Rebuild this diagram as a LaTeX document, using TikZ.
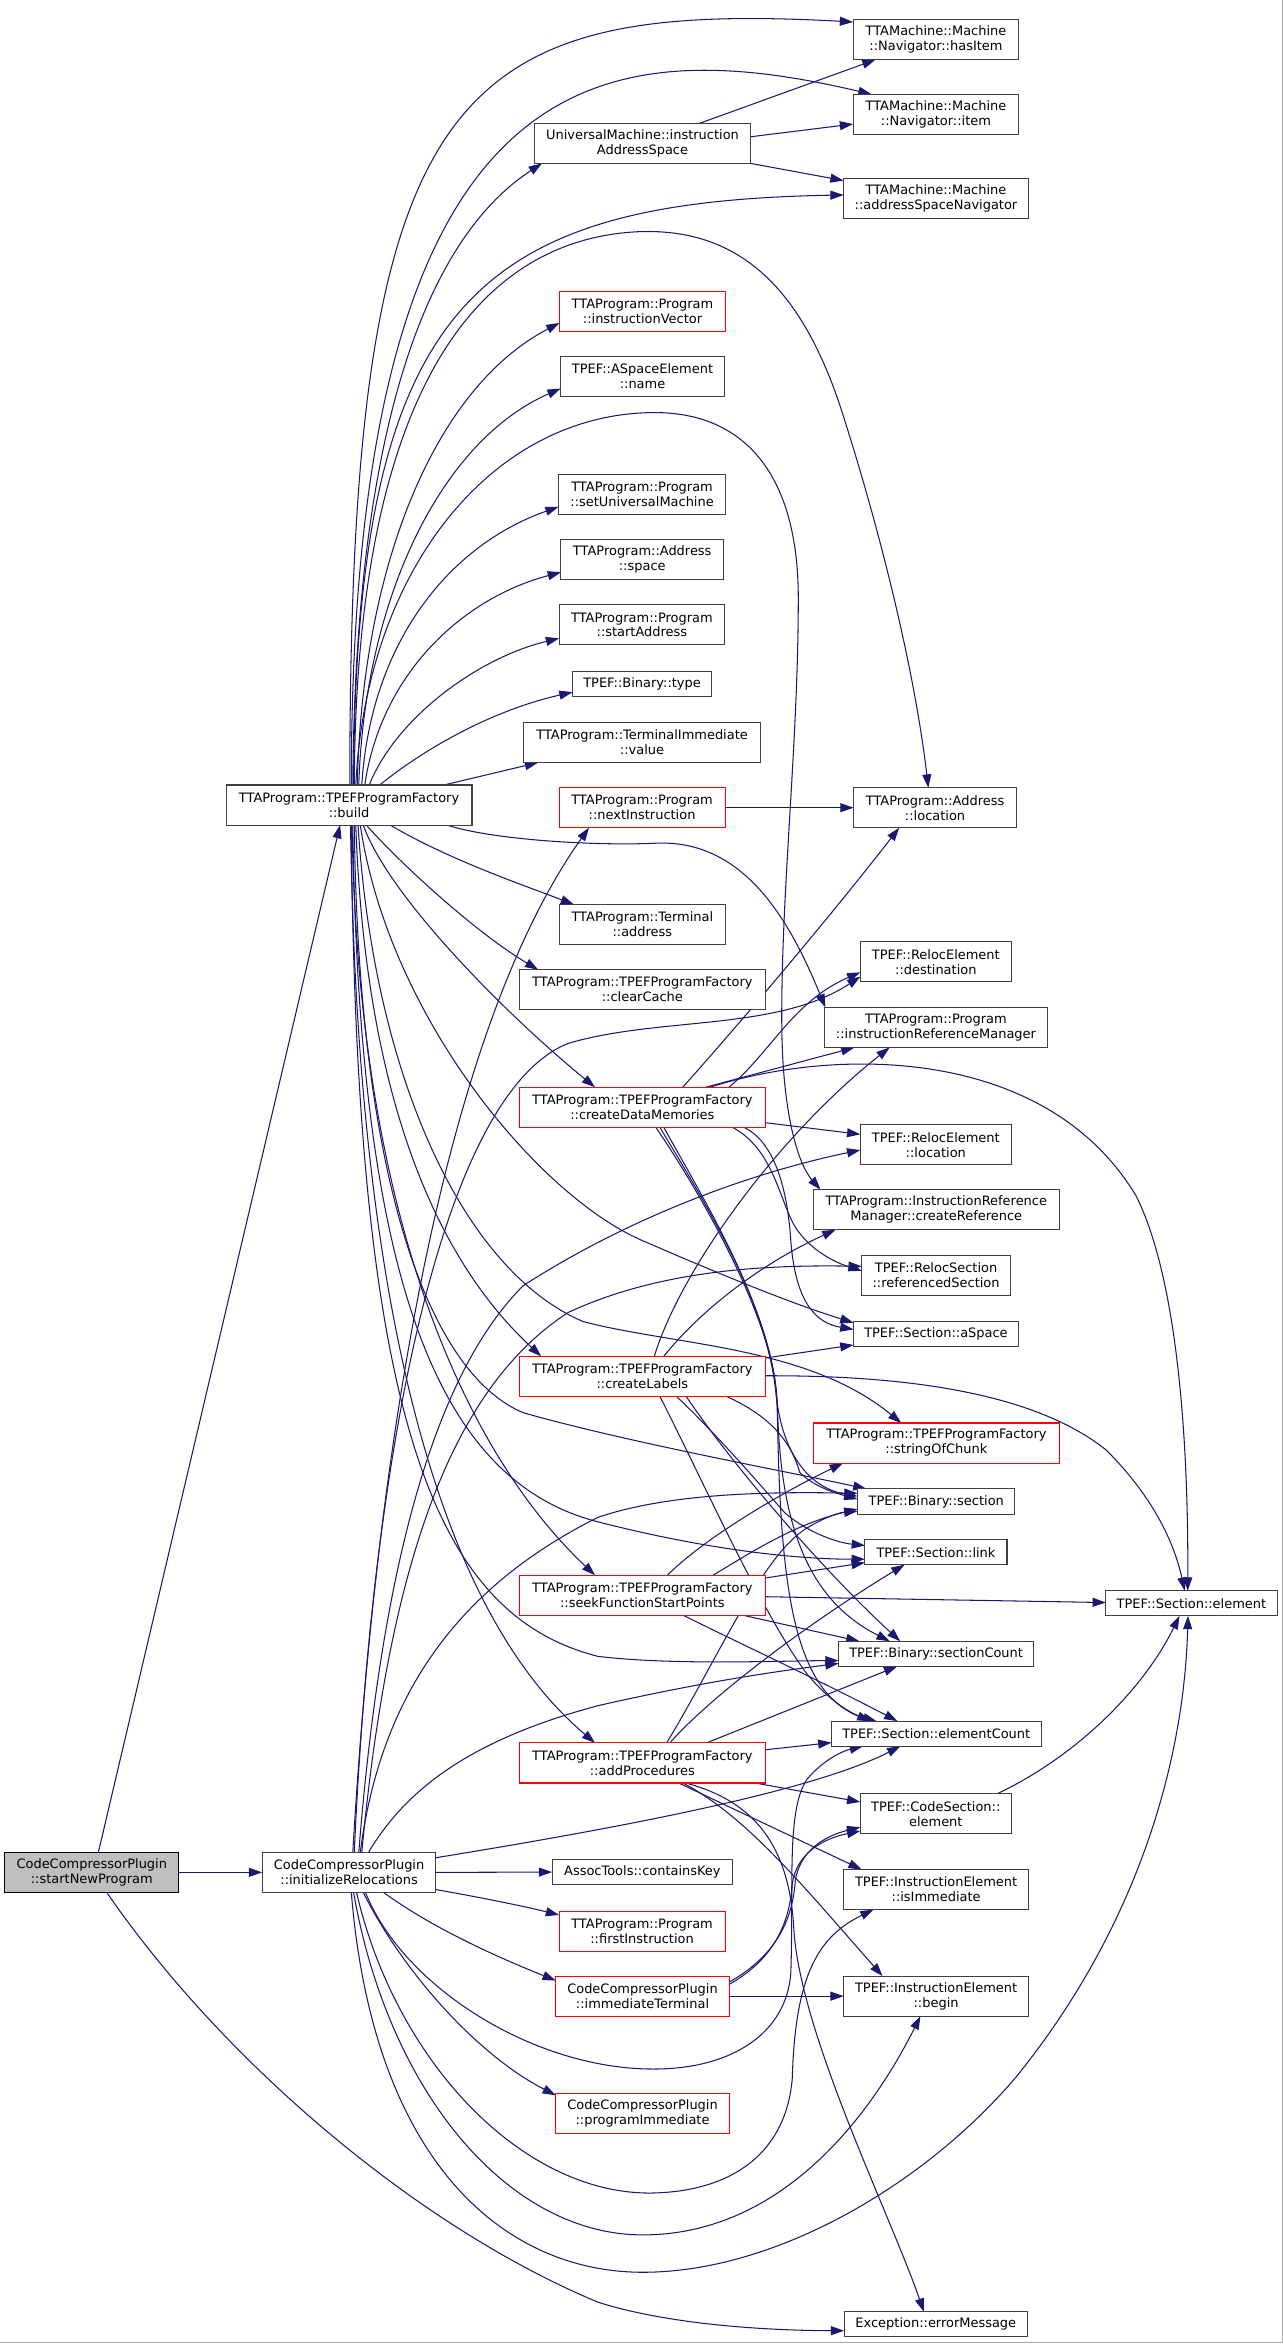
\documentclass[tikz,border=0pt]{standalone}
\usepackage{fontspec}
\newfontfamily\dvs{DejaVu Sans}
\usetikzlibrary{arrows.meta,calc}
\definecolor{edgec}{HTML}{191970}
\definecolor{boxc}{HTML}{404040}
\definecolor{redc}{HTML}{FF0000}
\definecolor{rootfill}{HTML}{BFBFBF}
\definecolor{framec}{HTML}{A8A8A8}
\pgfdeclarelayer{bg}
\pgfsetlayers{bg,main}
\begin{document}
\begin{tikzpicture}[x=1pt,y=-1pt,
  box/.style={draw=boxc, line width=0.7pt, fill=white, inner sep=0pt, outer sep=0pt, align=center, minimum height=26.8pt, font=\dvs\fontsize{8.67}{10}\selectfont},
  one/.style={minimum height=16.8pt},
  redbox/.style={box, draw=redc},
  root/.style={box, draw=black, fill=rootfill},
  edg/.style={draw=edgec, line width=0.7pt, -{Triangle[length=8.9pt,width=6pt]}}]
\useasboundingbox (0,0) rectangle (858.2,1568);
% ---- nodes ----
\node[root, minimum width=116.6pt] (nsnp) at (61.4,1252.5) {CodeCompressorPlugin\\::startNewProgram};
\node[box, minimum width=116.2pt] (nir) at (233.5,1252.5) {CodeCompressorPlugin\\::initializeRelocations};
\node[box, minimum width=164.5pt] (nbuild) at (233.5,538.5) {TTAProgram::TPEFProgramFactory\\::build};
\node[box, minimum width=144.5pt] (num) at (429.8,95.9) {UniversalMachine::instruction\\AddressSpace};
\node[redbox, minimum width=111pt] (nivec) at (429.8,208.4) {TTAProgram::Program\\::instructionVector};
\node[box, minimum width=109.5pt] (nname) at (429.8,251.9) {TPEF::ASpaceElement\\::name};
\node[box, minimum width=111.6pt] (nsetum) at (429.5,330.5) {TTAProgram::Program\\::setUniversalMachine};
\node[box, minimum width=108.7pt] (nspace) at (429.6,374.3) {TTAProgram::Address\\::space};
\node[box, minimum width=110.7pt] (nstart) at (429.4,418) {TTAProgram::Program\\::startAddress};
\node[box, one, minimum width=93pt] (ntype) at (429.5,457.5) {TPEF::Binary::type};
\node[box, minimum width=159pt] (nvalue) at (429.5,496.7) {TTAProgram::TerminalImmediate\\::value};
\node[redbox, minimum width=111pt] (nnexti) at (429.5,540.3) {TTAProgram::Program\\::nextInstruction};
\node[box, minimum width=111.5pt] (ntaddr) at (429.7,618.5) {TTAProgram::Terminal\\::address};
\node[box, minimum width=164.3pt] (nclear) at (429.7,662.1) {TTAProgram::TPEFProgramFactory\\::clearCache};
\node[redbox, minimum width=164.3pt] (ncdm) at (429.7,740.7) {TTAProgram::TPEFProgramFactory\\::createDataMemories};
\node[redbox, minimum width=164.3pt] (ncl) at (429.7,920.7) {TTAProgram::TPEFProgramFactory\\::createLabels};
\node[redbox, minimum width=164.3pt] (nsfsp) at (429.7,1067.1) {TTAProgram::TPEFProgramFactory\\::seekFunctionStartPoints};
\node[redbox, minimum width=164.3pt] (nap) at (429.7,1179.3) {TTAProgram::TPEFProgramFactory\\::addProcedures};
\node[box, one, minimum width=120.7pt] (nck) at (429.7,1252.3) {AssocTools::containsKey};
\node[redbox, minimum width=111pt] (nfi) at (429.5,1291.9) {TTAProgram::Program\\::firstInstruction};
\node[redbox, minimum width=116pt] (nit) at (429.8,1335.3) {CodeCompressorPlugin\\::immediateTerminal};
\node[redbox, minimum width=116pt] (npi) at (429.8,1414) {CodeCompressorPlugin\\::programImmediate};
\node[box, minimum width=110.8pt] (nhasitem) at (626.1,26.5) {TTAMachine::Machine\\::Navigator::hasItem};
\node[box, minimum width=110.8pt] (nitem) at (626.1,76.5) {TTAMachine::Machine\\::Navigator::item};
\node[box, minimum width=123.5pt] (nasn) at (626.1,132.7) {TTAMachine::Machine\\::addressSpaceNavigator};
\node[box, minimum width=109pt] (naloc) at (625.5,540.3) {TTAProgram::Address\\::location};
\node[box, minimum width=101pt] (ndest) at (626,643.4) {TPEF::RelocElement\\::destination};
\node[box, minimum width=149pt] (nirm) at (626.1,687.3) {TTAProgram::Program\\::instructionReferenceManager};
\node[box, minimum width=101pt] (nrloc) at (626,765.8) {TPEF::RelocElement\\::location};
\node[box, minimum width=164.8pt] (ncref) at (626.3,809.2) {TTAProgram::InstructionReference\\Manager::createReference};
\node[box, minimum width=99.4pt] (nrsec) at (626.2,853.1) {TPEF::RelocSection\\::referencedSection};
\node[box, one, minimum width=110.3pt] (naspace) at (626.1,892.3) {TPEF::Section::aSpace};
\node[redbox, minimum width=165pt] (nsoc) at (626.4,965.3) {TTAProgram::TPEFProgramFactory\\::stringOfChunk};
\node[box, one, minimum width=105.3pt] (nbsec) at (626.3,1004.4) {TPEF::Binary::section};
\node[box, one, minimum width=95pt] (nlink) at (626.1,1038.3) {TPEF::Section::link};
\node[box, one, minimum width=130.5pt] (nbsc) at (626.2,1106.3) {TPEF::Binary::sectionCount};
\node[box, one, minimum width=140.2pt] (nsec) at (626.3,1159.7) {TPEF::Section::elementCount};
\node[box, minimum width=101pt] (ncse) at (626,1213.4) {TPEF::CodeSection::\\element};
\node[box, minimum width=123.6pt] (nisimm) at (626.2,1264) {TPEF::InstructionElement\\::isImmediate};
\node[box, minimum width=123.6pt] (nbegin) at (626.2,1335.3) {TPEF::InstructionElement\\::begin};
\node[box, one, minimum width=122.7pt] (nerr) at (626,1554.8) {Exception::errorMessage};
\node[box, one, minimum width=114.5pt] (nselem) at (797,1072.5) {TPEF::Section::element};
\begin{pgfonlayer}{bg}
\fill[white] (0,0) rectangle (858.2,1568);
\draw[framec, line width=0.67pt] (857.7,0) -- (857.7,1567.3) -- (0,1567.3);
% ---- build, upward ----
\draw[edg] ($(nbuild.north)+(0.5,0)$) .. controls (234,60) and (300,0) .. ($(nhasitem.west)+(0,-11.8)$);
\draw[edg] ($(nbuild.north)+(1.5,0)$) .. controls (235,40) and (400,20) .. ($(nitem.north)+(-43,0)$);
\draw[edg] ($(nbuild.north)+(2.5,0)$) .. controls (238,250) and (300,150) .. ($(num.south west)+(5,0)$);
\draw[edg] ($(nbuild.north)+(3,0)$) .. controls (238,200) and (320,135) .. ($(nasn.west)+(0,-2.3)$);
\draw[edg] ($(nbuild.north)+(3.5,0)$) .. controls (238,260) and (320,160) .. (427,155) .. controls (500,152) and (540,200) .. (565,281) .. controls (590,360) and (612,450) .. ($(naloc.north)+(-4.5,0)$);
\draw[edg] ($(nbuild.north)+(4.5,0)$) .. controls (245,380) and (330,276) .. (438,276) .. controls (500,276) and (534,320) .. (534,400) .. controls (534,500) and (522,600) .. (523,690) .. controls (524,750) and (535,780) .. ($(ncref.north west)+(5,0)$);
\draw[edg] ($(nbuild.north)+(5.5,0)$) .. controls (242,380) and (290,260) .. ($(nivec.west)+(0,7.6)$);
\draw[edg] ($(nbuild.north)+(6.5,0)$) .. controls (244,400) and (295,295) .. ($(nname.west)+(0,8)$);
\draw[edg] ($(nbuild.north)+(8.5,0)$) .. controls (248,430) and (300,365) .. ($(nsetum.west)+(0,8.5)$);
\draw[edg] ($(nbuild.north)+(10.5,0)$) .. controls (255,450) and (310,400) .. ($(nspace.west)+(0,8.5)$);
\draw[edg] ($(nbuild.north)+(13.5,0)$) .. controls (265,480) and (320,440) .. ($(nstart.west)+(0,9)$);
\draw[edg] ($(nbuild.north)+(20.5,0)$) .. controls (285,500) and (330,475) .. ($(ntype.west)+(0,5.5)$);
\draw[edg] ($(nbuild.north)+(63.5,0)$) -- ($(nvalue.south west)+(10,0)$);
% ---- build, downward ----
\draw[edg] ($(nbuild.south)+(65.5,0)$) .. controls (330,562) and (400,566) .. (440,564) .. controls (500,562) and (530,620) .. ($(nirm.north west)+(0.5,0)$);
\draw[edg] ($(nbuild.south)+(27.5,0)$) .. controls (300,575) and (350,592) .. ($(ntaddr.north west)+(10,0)$);
\draw[edg] ($(nbuild.south)+(11.5,0)$) .. controls (270,580) and (320,625) .. ($(nclear.north west)+(12.5,0)$);
\draw[edg] ($(nbuild.south)+(9.5,0)$) .. controls (260,600) and (340,680) .. ($(ncdm.north west)+(50.5,0)$);
\draw[edg] ($(nbuild.south)+(7.5,0)$) .. controls (260,680) and (360,800) .. (430,830) .. controls (490,856) and (530,872) .. ($(naspace.north west)+(0,1)$);
\draw[edg] ($(nbuild.south)+(6,0)$) .. controls (250,720) and (310,850) .. (390,884) .. controls (450,900) and (540,900) .. ($(nsoc.north west)+(59,0)$);
\draw[edg] ($(nbuild.south)+(4.5,0)$) .. controls (245,750) and (300,850) .. ($(ncl.north west)+(14.5,0)$);
\draw[edg] ($(nbuild.south)+(3.5,0)$) .. controls (240,800) and (290,920) .. (350,945) .. controls (420,965) and (530,985) .. ($(nbsec.north west)+(6,0)$);
\draw[edg] ($(nbuild.south)+(2.5,0)$) .. controls (240,850) and (290,990) .. (400,1018) .. controls (470,1036) and (530,1043) .. ($(nlink.west)+(0,4.7)$);
\draw[edg] ($(nbuild.south)+(2,0)$) .. controls (240,850) and (330,990) .. ($(nsfsp.north west)+(50.5,0)$);
\draw[edg] ($(nbuild.south)+(1.5,0)$) .. controls (238,950) and (290,1080) .. (400,1108) .. controls (450,1114) and (520,1111) .. ($(nbsc.west)+(0,4.5)$);
\draw[edg] ($(nbuild.south)+(1,0)$) .. controls (240,950) and (320,1100) .. ($(nap.north west)+(50.5,0)$);
% ---- startNewProgram ----
\draw[edg] ($(nsnp.north)+(4.4,0)$) -- ($(nbuild.south)+(-6,0)$);
\draw[edg] (nsnp.east) -- (nir.west);
\draw[edg] ($(nsnp.south)+(10,0)$) .. controls (150,1380) and (280,1490) .. (400,1540) .. controls (450,1556) and (520,1559) .. ($(nerr.west)+(0,4.3)$);
% ---- misc ----
\draw[edg] ($(num.north)+(38.2,0)$) -- ($(nhasitem.south west)+(15,0)$);
\draw[edg] ($(num.east)+(0,-4.4)$) -- ($(nitem.west)+(0,6.5)$);
\draw[edg] (num.south east) -- ($(nasn.north west)+(0,1.5)$);
\draw[edg] (nnexti.east) -- (naloc.west);
\draw[edg] ($(ncse.north east)+(-9.7,0)$) .. controls (720,1175) and (765,1130) .. ($(nselem.south)+(-8,0)$);
% ---- initializeRelocations ----
\draw[edg] ($(nir.north)+(2.5,0)$) .. controls (250,1000) and (290,700) .. ($(nnexti.south west)+(20,0)$);
\draw[edg] ($(nir.north)+(3.5,0)$) .. controls (250,950) and (300,730) .. (380,698) .. controls (440,680) and (520,690) .. ($(ndest.south west)+(0,-3.5)$);
\draw[edg] ($(nir.north)+(6.5,0)$) .. controls (255,1050) and (290,920) .. (350,860) .. controls (420,815) and (500,785) .. ($(nrloc.west)+(0,3.5)$);
\draw[edg] ($(nir.north)+(8.5,0)$) .. controls (260,1050) and (300,930) .. (380,878) .. controls (440,850) and (510,846) .. ($(nrsec.west)+(0,-6)$);
\draw[edg] ($(nir.north)+(7.5,0)$) .. controls (255,1130) and (310,1060) .. (400,1015) .. controls (450,998) and (520,998) .. ($(nbsec.west)+(0,-5.5)$);
\draw[edg] ($(nir.north)+(13,0)$) .. controls (270,1200) and (310,1165) .. (400,1141) .. controls (470,1125) and (520,1118) .. ($(nbsc.south west)+(0,-2)$);
\draw[edg] ($(nir.north east)+(0,3.6)$) .. controls (400,1225) and (540,1200) .. ($(nsec.south)+(-24,0)$);
\draw[edg] (nir.east) -- (nck.west);
\draw[edg] ($(nir.east)+(0,11.5)$) .. controls (320,1269) and (350,1275) .. ($(nfi.north west)+(0,2.5)$);
\draw[edg] ($(nir.south)+(23,0)$) .. controls (290,1290) and (330,1308) .. ($(nit.north west)+(0,3)$);
\draw[edg] ($(nir.south)+(9.5,0)$) .. controls (270,1320) and (320,1375) .. ($(npi.north west)+(0,1)$);
\draw[edg] ($(nir.south)+(11,0)$) .. controls (270,1330) and (360,1386) .. (441,1384) .. controls (490,1383) and (526,1360) .. (529,1320) .. controls (531,1260) and (526,1210) .. (540,1190) .. controls (552,1176) and (565,1171) .. ($(nsec.south)+(-49,0)$);
\draw[edg] ($(nir.south)+(5,0)$) .. controls (265,1380) and (350,1468) .. (436,1467) .. controls (490,1466) and (526,1440) .. (530,1390) .. controls (532,1320) and (548,1295) .. ($(nisimm.south west)+(20,0)$);
\draw[edg] ($(nir.south)+(3,0)$) .. controls (260,1400) and (340,1495) .. (430,1495) .. controls (520,1495) and (580,1420) .. ($(nbegin.south)+(-10.5,0)$);
\draw[edg] ($(nir.south)+(1.5,0)$) .. controls (250,1450) and (340,1520) .. (430,1520) .. controls (520,1520) and (620,1460) .. (680,1389) .. controls (760,1290) and (792,1180) .. ($(nselem.south)+(-2.3,0)$);
% ---- createDataMemories ----
\draw[edg] ($(ncdm.north)+(27,0)$) .. controls (490,690) and (550,620) .. ($(naloc.south)+(-24,0)$);
\draw[edg] ($(ncdm.north)+(57.8,0)$) .. controls (515,705) and (530,670) .. ($(ndest.west)+(0,7)$);
\draw[edg] ($(ncdm.north)+(42.3,0)$) -- ($(nirm.south west)+(20,0)$);
\draw[edg] ($(ncdm.north)+(45.3,0)$) .. controls (560,700) and (700,700) .. (760,800) .. controls (790,860) and (795,980) .. ($(nselem.north)+(-2.5,0)$);
\draw[edg] ($(ncdm.east)+(0,10.3)$) -- ($(nrloc.west)+(0,-7)$);
\draw[edg] ($(ncdm.south)+(60.3,0)$) .. controls (520,770) and (522,810) .. (535,825) .. controls (545,838) and (560,845) .. ($(nrsec.west)+(0,-3)$);
\draw[edg] ($(ncdm.south)+(68,0)$) .. controls (520,765) and (527,800) .. (529,830) .. controls (532,870) and (545,885) .. ($(naspace.west)+(0,-3)$);
\draw[edg] ($(ncdm.south)+(9,0)$) .. controls (470,800) and (515,880) .. (519,930) .. controls (522,970) and (540,995) .. ($(nbsec.west)+(0,-3.5)$);
\draw[edg] ($(ncdm.south)+(11.7,0)$) .. controls (475,810) and (518,880) .. (520,940) .. controls (522,1020) and (540,1070) .. ($(nbsc.north)+(-31,0)$);
\draw[edg] ($(ncdm.south)+(14.3,0)$) .. controls (478,815) and (518,880) .. (520,945) .. controls (522,1060) and (530,1130) .. ($(nsec.north)+(-44,0)$);
% ---- createLabels ----
\draw[edg] ($(ncl.north)+(8,0)$) .. controls (455,850) and (520,760) .. ($(nirm.south)+(-31,0)$);
\draw[edg] ($(ncl.north)+(14.3,0)$) .. controls (470,875) and (510,845) .. ($(ncref.south west)+(15,0)$);
\draw[edg] ($(ncl.east)+(0,-12.3)$) -- ($(naspace.south west)+(0,-1)$);
\draw[edg] ($(ncl.east)+(0,-0.4)$) .. controls (600,920) and (690,930) .. (740,970) .. controls (770,1000) and (785,1030) .. ($(nselem.north)+(-4.5,0)$);
\draw[edg] ($(ncl.south)+(22.8,0)$) .. controls (480,960) and (510,995) .. (525,1012) .. controls (540,1025) and (560,1032) .. ($(nlink.west)+(0,-4.5)$);
\draw[edg] ($(ncl.south)+(56.3,0)$) .. controls (510,945) and (528,960) .. (535,985) .. controls (545,995) and (560,999) .. ($(nbsec.west)+(0,-1.5)$);
\draw[edg] ($(ncl.south)+(29.3,0)$) .. controls (490,980) and (550,1050) .. ($(nbsc.north)+(-24,0)$);
\draw[edg] ($(ncl.south)+(11.7,0)$) .. controls (470,990) and (510,1080) .. (540,1120) .. controls (555,1138) and (570,1147) .. ($(nsec.north)+(-40,0)$);
% ---- seekFunctionStartPoints ----
\draw[edg] ($(nsfsp.north)+(16.8,0)$) .. controls (470,1030) and (520,1000) .. ($(nsoc.south west)+(20,0)$);
\draw[edg] ($(nsfsp.north)+(47.3,0)$) .. controls (500,1040) and (530,1020) .. ($(nbsec.west)+(0,5)$);
\draw[edg] ($(nsfsp.east)+(0,-11.5)$) -- ($(nlink.west)+(0,7)$);
\draw[edg] ($(nsfsp.east)+(0,1)$) -- ($(nselem.west)+(0,-0.5)$);
\draw[edg] ($(nsfsp.south)+(67.3,0)$) -- ($(nbsc.north west)+(14,0)$);
\draw[edg] ($(nsfsp.south)+(27.3,0)$) .. controls (490,1097) and (550,1125) .. ($(nsec.north)+(-26,0)$);
% ---- addProcedures ----
\draw[edg] ($(nap.north)+(16.2,0)$) .. controls (480,1110) and (510,1040) .. (540,1022) .. controls (550,1016) and (560,1012) .. ($(nbsec.west)+(0,6.5)$);
\draw[edg] ($(nap.north)+(18.3,0)$) .. controls (480,1130) and (550,1080) .. ($(nlink.south)+(-21,0)$);
\draw[edg] ($(nap.north)+(42.9,0)$) -- ($(nbsc.south)+(-26,0)$);
\draw[edg] ($(nap.east)+(0,-8.8)$) -- ($(nsec.west)+(0,6)$);
\draw[edg] ($(nap.south east)+(-6.8,0)$) -- ($(ncse.west)+(0,-8)$);
\draw[edg] ($(nap.south)+(24.3,0)$) -- ($(nisimm.north west)+(12,0)$);
\draw[edg] ($(nap.south)+(27,0)$) .. controls (500,1215) and (540,1265) .. ($(nbegin.north west)+(26,0)$);
\draw[edg] ($(nap.south)+(29,0)$) .. controls (505,1205) and (528,1235) .. (531,1290) .. controls (535,1360) and (595,1480) .. ($(nerr.north)+(-8,0)$);
% ---- immediateTerminal ----
\draw[edg] (nit.east) -- (nbegin.west);
\draw[edg] ($(nit.north east)+(0,5.5)$) .. controls (515,1312) and (528,1290) .. (530,1260) .. controls (533,1240) and (550,1230) .. ($(ncse.south west)+(0,-2)$);
\draw[edg] ($(nit.north east)+(0,4)$) .. controls (516,1310) and (530,1288) .. (532,1258) .. controls (535,1238) and (552,1228) .. ($(ncse.south west)+(0,-4.5)$);
\end{pgfonlayer}
\end{tikzpicture}
\end{document}
